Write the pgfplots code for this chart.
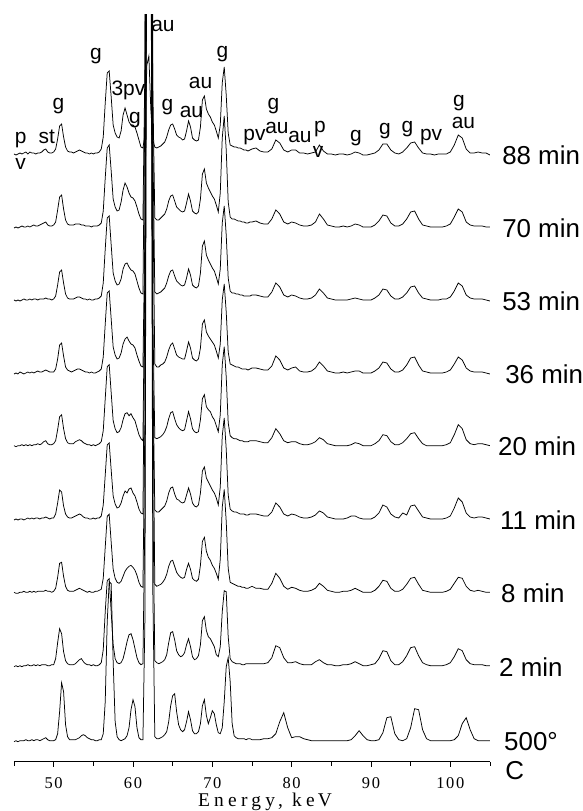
\documentclass[border=0pt]{standalone}
\usepackage{fontspec}
\setmainfont{Liberation Serif}
\newfontfamily\arial{Liberation Sans}
\usepackage{pgfplots}
\usepackage{pgfplotstable}
\pgfplotsset{compat=1.18}

\pgfplotstableread{
E a b c d e f g h k
45.00 1 0 1 0 1 0 1 0 0
45.25 0 1 0 1 0 1 0 1 1
45.50 1 0 1 0 1 0 0 0 0
45.75 2 1 0 2 1 1 1 1 1
46.00 1 2 1 1 2 1 1 0 1
46.25 2 1 2 0 1 0 2 1 1
46.50 3 1 1 1 2 1 1 1 2
46.75 1 2 1 2 1 2 1 2 1
47.00 3 1 2 1 2 1 2 1 1
47.25 2 2 1 2 1 2 1 1 2
47.50 2 3 2 1 2 1 2 2 1
47.75 1 2 2 2 2 2 1 1 2
48.00 2 2 1 3 3 2 2 2 2
48.25 2 3 2 2 2 1 2 1 1
48.50 3 4 2 2 3 2 2 2 2
48.75 5 5 2 3 5 2 2 2 3
49.00 6 6 3 4 6 3 3 2 4
49.25 3 3 2 3 3 2 2 1 2
49.50 2 2 2 2 2 1 2 1 1
49.75 2 2 1 2 2 2 1 2 1
50.00 3 3 2 2 3 2 2 2 1
50.25 6 6 5 5 6 6 5 8 2
50.50 16 18 16 15 17 17 16 24 8
50.75 29 31 29 29 30 30 30 38 30
51.00 31 33 31 31 32 28 31 33 59
51.25 18 19 18 18 18 14 17 15 50
51.50 8 8 7 7 8 6 7 6 17
51.75 4 4 3 4 4 3 3 3 5
52.00 3 3 2 3 3 2 2 2 2
52.25 3 3 2 2 3 2 2 2 2
52.50 2 3 2 3 3 3 2 2 2
52.75 3 4 3 4 5 4 3 3 2
53.00 4 4 4 5 6 5 4 5 3
53.25 5 4 4 5 7 6 5 7 4
53.50 4 3 3 4 6 5 4 8 6
53.75 3 3 2 3 4 3 3 5 7
54.00 2 2 2 2 3 2 2 3 6
54.25 2 2 1 2 2 2 1 2 4
54.50 1 2 2 1 2 1 2 2 3
54.75 2 1 1 2 1 1 1 1 2
55.00 1 2 1 1 2 2 1 2 2
55.25 2 2 2 1 1 1 2 1 1
55.50 2 2 2 2 2 2 2 1 1
55.75 3 3 3 3 3 2 3 2 2
56.00 6 5 5 5 5 4 4 4 2
56.25 18 17 18 17 16 15 15 17 8
56.50 52 50 52 50 48 45 46 55 40
56.75 82 80 83 81 80 75 77 86 120
57.00 84 83 85 83 82 77 79 88 160
57.25 58 57 56 55 54 50 51 55 158
57.50 30 29 28 27 26 24 24 22 80
57.75 22 21 20 19 18 16 15 8 20
58.00 18 17 16 15 14 12 11 4 5
58.25 17 18 17 16 15 13 10 3 2
58.50 24 26 22 21 19 17 12 4 1
58.75 40 38 32 30 27 24 17 8 2
59.00 47 45 37 35 33 29 22 16 3
59.25 40 41 38 37 34 27 25 25 6
59.50 33 35 34 33 31 31 27 32 14
59.75 30 31 31 30 33 32 28 33 32
60.00 30 30 30 29 29 27 26 27 42
60.25 28 27 27 26 26 24 23 18 35
60.50 22 21 20 19 19 18 18 9 14
60.75 15 14 13 13 12 11 11 4 4
61.00 8 9 8 8 8 7 7 2 2
61.25 7 8 7 7 6 6 6 3 2
61.50 20 160 200 140 180 220 170 150 120
61.75 90 900 900 900 900 900 900 900 900
62.00 99 900 900 900 900 900 900 900 900
62.25 45 900 900 900 900 900 900 900 900
62.50 15 140 160 180 130 150 200 170 150
62.75 8 10 9 10 9 10 9 6 5
63.00 7 8 7 7 8 8 7 4 3
63.25 8 8 8 7 9 8 8 3 3
63.50 9 10 9 9 10 10 9 4 4
63.75 11 12 11 10 12 12 11 5 5
64.00 13 14 13 12 15 14 14 7 7
64.25 18 19 18 17 20 19 19 12 10
64.50 25 27 25 24 28 27 27 24 20
64.75 30 32 30 29 34 32 32 34 36
65.00 31 33 31 31 35 33 33 35 46
65.25 26 27 25 25 28 26 27 27 48
65.50 20 21 20 19 22 21 21 16 30
65.75 18 19 18 17 19 20 18 12 17
66.00 17 17 16 16 17 18 16 10 12
66.25 15 16 15 15 16 17 15 11 10
66.50 16 17 16 15 17 18 16 14 12
66.75 24 25 23 23 26 25 24 22 20
67.00 34 34 32 32 35 32 30 28 30
67.25 28 27 26 26 28 26 24 20 22
67.50 17 17 16 16 18 17 15 10 11
67.75 15 15 14 14 15 14 13 7 8
68.00 14 14 13 13 14 13 12 8 8
68.25 15 16 15 15 15 15 14 11 10
68.50 28 29 28 26 27 27 28 22 18
68.75 55 54 55 50 48 49 52 46 36
69.00 59 59 60 54 52 53 56 50 42
69.25 46 45 46 42 40 42 42 36 26
69.50 41 40 41 38 37 38 36 30 18
69.75 38 36 37 35 35 34 33 28 24
70.00 33 32 33 32 30 30 28 24 31
70.25 30 29 30 29 27 27 25 20 28
70.50 24 23 24 23 21 22 20 12 17
70.75 17 16 17 16 15 15 14 10 9
71.00 30 35 32 30 32 33 34 20 8
71.25 72 90 78 74 82 84 86 55 14
71.50 88 112 95 90 100 102 104 76 40
71.75 60 78 66 62 70 71 72 75 75
72.00 22 26 23 22 24 25 25 30 84
72.25 10 11 10 10 11 11 11 8 60
72.50 9 9 8 9 9 9 10 5 18
72.75 8 9 8 8 8 8 9 4 6
73.00 8 8 7 7 8 8 8 3 4
73.25 7 7 7 7 7 7 7 3 3
73.50 7 7 6 6 6 6 7 3 3
73.75 6 6 6 5 6 6 6 2 3
74.00 5 6 5 5 5 6 6 2 3
74.25 5 5 5 5 5 5 5 3 2
74.50 4 5 5 4 5 5 5 3 3
74.75 5 6 5 5 6 6 6 3 3
75.00 6 6 6 6 6 6 7 3 2
75.5 7 7 6 6 6 6 5 3 2
76.0 4 5 5 5 5 5 5 3 2
76.5 3 4 4 4 4 4 4 3 3
77.0 3 4 4 4 4 4 4 4 3
77.5 6 9 9 8 9 8 10 9 4
78.0 15 18 18 18 18 17 20 21 8
78.5 12 14 14 14 13 13 15 19 20
79.0 5 6 6 6 6 6 7 9 29
79.5 3 4 4 4 4 4 4 4 14
80.0 5 6 6 6 5 6 6 4 4
80.5 5 5 5 7 5 5 5 5 5
81.0 2 3 3 3 3 3 3 3 5
81.5 2 2 2 2 2 2 2 2 3
82.0 1 2 2 2 2 2 2 2 2
82.5 2 3 3 3 3 3 3 2 1
83.0 3 6 6 6 5 5 5 5 1
83.5 10 14 12 12 9 9 10 7 1
84.0 4 9 8 8 7 7 7 4 1
84.5 1 3 3 3 3 3 3 2 1
85.0 1 2 2 2 2 2 2 2 1
85.5 0 1 1 1 1 1 1 1 1
86.0 1 1 1 1 1 1 1 1 1
86.5 1 2 1 2 1 1 2 2 1
87.0 0 1 1 1 1 2 2 2 1
87.5 1 2 2 2 2 4 3 3 2
88.0 3 4 3 3 4 4 5 5 6
88.5 2 3 2 3 3 2 3 3 11
89.0 0 1 1 1 1 1 1 1 6
89.5 0 1 1 1 1 1 1 1 2
90.0 1 1 1 1 1 1 1 2 1
90.5 2 3 3 3 3 3 3 3 1
91.0 5 7 6 6 6 7 7 8 2
91.5 11 13 12 12 12 15 13 16 9
92.0 11 12 11 11 11 13 12 15 24
92.5 5 5 5 5 5 6 5 6 25
93.0 2 2 2 2 2 3 2 2 8
93.5 1 2 2 2 2 2 2 2 2
94.0 3 4 4 4 4 7 4 5 1
94.5 7 9 8 9 8 5 9 11 3
95.0 12 16 14 16 13 14 15 19 14
95.5 13 17 15 17 14 15 16 20 33
96.0 7 9 8 9 8 9 9 11 32
96.5 2 3 3 3 3 3 3 4 12
97.0 1 2 2 2 1 2 2 2 3
97.5 1 1 1 1 1 1 1 1 1
98.0 0 1 1 1 1 1 1 1 1
98.5 1 1 1 1 1 1 1 1 1
99.0 1 1 2 1 1 1 1 1 1
99.5 1 2 2 2 2 2 2 2 1
100.0 3 4 4 4 4 4 4 4 1
100.5 10 11 10 10 12 12 10 10 2
101.0 20 19 18 17 22 22 16 18 6
101.5 17 16 15 14 18 18 15 16 18
102.0 6 6 6 6 7 7 7 7 24
102.5 2 3 3 3 3 3 3 3 12
103.0 2 2 2 2 2 2 2 2 3
103.5 3 2 2 2 3 3 3 2 1
104.0 2 2 2 2 3 3 2 2 1
104.5 2 1 1 1 2 2 1 1 1
105.0 0 1 0 0 1 1 1 1 1
}\spectra

\pgfplotsset{trace/.style={black, no markers, solid, line width=0.75bp}}

\begin{document}
\begin{tikzpicture}
\begin{axis}[
  scale only axis,
  width=476bp, height=747bp,
  xmin=45, xmax=105, ymin=0, ymax=747,
  axis x line*=bottom,
  axis y line=none,
  ytick=\empty,
  xtick={50,60,...,100},
  minor xtick={45,55,...,105},
  tick align=outside,
  major tick length=5bp,
  minor tick length=4bp,
  every tick/.style={black, line width=0.8bp},
  x axis line style={black, line width=0.8bp},
  /pgf/number format/assume math mode=true,
  xticklabel={\fontsize{16.5}{16.5}\selectfont\addfontfeatures{LetterSpace=10}\pgfmathprintnumber{\tick}},
  xticklabel style={anchor=base, inner sep=0pt, yshift=-22bp},
  clip mode=individual,
]
\addplot[trace] table[x=E, y expr=\thisrow{a}+606.7]{\spectra};
\addplot[trace] table[x=E, y expr=\thisrow{b}+533.7]{\spectra};
\addplot[trace] table[x=E, y expr=\thisrow{c}+460.7]{\spectra};
\addplot[trace] table[x=E, y expr=\thisrow{d}+387.7]{\spectra};
\addplot[trace] table[x=E, y expr=\thisrow{e}+315.0]{\spectra};
\addplot[trace] table[x=E, y expr=\thisrow{f}+241.7]{\spectra};
\addplot[trace] table[x=E, y expr=\thisrow{g}+168.4]{\spectra};
\addplot[trace] table[x=E, y expr=\thisrow{h}+95.0]{\spectra};
\addplot[trace] table[x=E, y expr=\thisrow{k}+20.0]{\spectra};

\coordinate (O) at (rel axis cs:0,0);

% right-hand labels
\begin{scope}[every node/.style={anchor=west, inner sep=0pt, font=\arial\fontsize{26}{26}\selectfont}]
\node at (axis cs:106.52,606.7) {88 min};
\node at (axis cs:106.52,533.7) {70 min};
\node at (axis cs:106.52,460.7) {53 min};
\node at (axis cs:106.90,387.7) {36 min};
\node at (axis cs:106.01,315.0) {20 min};
\node at (axis cs:106.26,241.7) {11 min};
\node at (axis cs:106.39,168.4) {8 min};
\node at (axis cs:106.14,95.0) {2 min};
\node at (axis cs:106.77,20.0) {500°};
\node at (axis cs:106.90,-8.8) {C};
\end{scope}

% peak labels
\begin{scope}[every node/.style={anchor=center, inner sep=0pt, font=\arial\fontsize{21}{21}\selectfont}]
\node at (axis cs:45.84,621.7) {p};
\node at (axis cs:45.84,598.0) {v};
\node at (axis cs:49.12,624.7) {st};
\node at (axis cs:50.59,655.7) {g};
\node at (axis cs:55.34,705.7) {g};
\node at (axis cs:59.43,671.7) {3pv};
\node at (axis cs:60.25,642.0) {g};
\node at (axis cs:63.78,735.7) {au};
\node at (axis cs:64.35,654.2) {g};
\node at (axis cs:67.37,649.7) {au};
\node at (axis cs:68.51,679.2) {au};
\node at (axis cs:71.28,707.2) {g};
\node at (axis cs:75.32,624.7) {pv};
\node at (axis cs:77.71,655.7) {g};
\node at (axis cs:78.15,633.7) {au};
\node at (axis cs:81.05,625.2) {au};
\node at (axis cs:83.57,632.2) {p};
\node at (axis cs:83.32,609.7) {v};
\node at (axis cs:88.11,623.2) {g};
\node at (axis cs:91.77,631.0) {g};
\node at (axis cs:94.60,632.4) {g};
\node at (axis cs:97.57,624.2) {pv};
\node at (axis cs:101.09,658.2) {g};
\node at (axis cs:101.66,638.7) {au};
\end{scope}

\node[inner sep=0pt, anchor=base, font=\fontsize{19.5}{19.5}\selectfont\addfontfeatures{LetterSpace=22}] at (axis cs:76.64,-44.3) {Energy, ke\,V};
\end{axis}
\pgfresetboundingbox
\path[use as bounding box] (O) ++(-14bp,-49.3bp) rectangle ++(583bp,811bp);
\end{tikzpicture}
\end{document}
